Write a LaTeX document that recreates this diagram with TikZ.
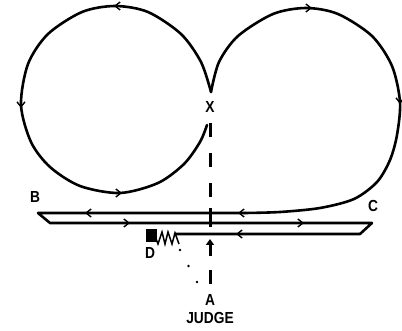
\documentclass[tikz,border=0pt]{standalone}
\usepackage{fontspec}
\setmainfont{Liberation Sans}[FakeStretch=0.86]
\usetikzlibrary{arrows.meta}
\begin{document}
\begin{tikzpicture}[x=1pt,y=-1pt,
  track/.style={line width=2.6pt, line join=round, line cap=round},
  barb/.style={line width=2.6pt, -{Straight Barb[length=5pt,width=8pt,line width=1.4pt]}},
  jdash/.style={line width=3pt},
  lbl/.style={font=\bfseries\fontsize{16}{16}\selectfont, inner sep=0pt},
  springline/.style={line width=1.5pt, line join=miter},
]
\useasboundingbox (0,0) rectangle (402,331);

% rail corners
\coordinate (bl) at (38,213);
\coordinate (ml) at (50,223);
\coordinate (mr) at (372,223);
\coordinate (br) at (360,234);
\coordinate (bs) at (175,234);
\coordinate (merge) at (245,213);

% left loop
\draw[track] plot[smooth] coordinates {(207,125) (200,142) (184,164) (158,183) (120,193) (80,186) (50,167) (31,142) (21,105) (28,64) (48,34) (82,12) (115,6) (148,12) (181,34) (201,62) (211,92)};
% right loop into the upper rail
\draw[track] plot[smooth] coordinates {(211,92) (219,62) (238,36) (273,14) (306,8) (338,14) (372,36) (392,66) (400,102) (397,135) (390,160) (377,182) (354,199) (320,208) (280,212) (245,213)};
\draw[track] (merge) -- (bl) -- (ml) -- (mr) -- (br) -- (bs);

% direction arrows
\draw[barb] (119,6) -- (114,6);
\draw[barb] (21,102) -- (21,108);
\draw[barb] (117,193) -- (122,193);
\draw[barb] (307,8) -- (312,8);
\draw[barb] (400,98) -- (400,104);
\draw[barb] (90,213) -- (85,213);
\draw[barb] (243,213) -- (238,213);
\draw[barb] (125,223) -- (130,223);
\draw[barb] (299,223) -- (304,223);
\draw[barb] (241,234) -- (236,234);

% buffer D with spring
\fill (146,229) rectangle (157,242);
\draw[springline] (155,236) -- (158,244) -- (162,232) -- (165,244) -- (168,232) -- (172,244) -- (175,233) -- (179,244);
\fill (180,250) circle (1.4);
\fill (188.5,266) circle (1.4);
\fill (197,282) circle (1.4);

% judge's line of sight
\draw[jdash] (210,123) -- (210,137);
\draw[jdash] (210,153) -- (210,167);
\draw[jdash] (210,183) -- (210,197);
\draw[jdash] (210,208) -- (210,227);
\draw[jdash, -{Triangle[length=6pt,width=8pt]}] (210,256) -- (210,239);
\draw[jdash] (210,270) -- (210,284);

% labels
\node[lbl] (B) at (35,197) {B};
\node[lbl] (C) at (373,206) {C};
\node[lbl] (D) at (150,253) {D};
\node[lbl] (X) at (210,107) {X};
\node[lbl] (A) at (210,300) {A};
\node[lbl] (J) at (210,318) {JUDGE};
\end{tikzpicture}
\end{document}
